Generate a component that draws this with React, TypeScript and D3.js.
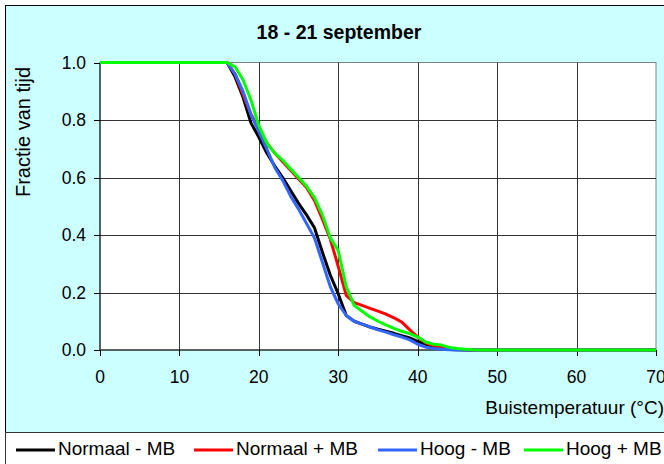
import React from 'react';
import * as d3 from 'd3';

// Buistemperatuur (°C) grid shared by all series
const temps = [0, 16, 17, 18, 19, 20, 21, 22, 23, 24, 25, 26, 27, 28, 29, 30, 31, 32, 33, 34, 35, 36, 37, 38, 39, 40, 41, 42, 43, 44, 45, 46, 47, 48, 70];

const normaalMin = [1, 1, 0.95, 0.88, 0.79, 0.74, 0.685, 0.64, 0.6, 0.555, 0.51, 0.47, 0.425, 0.34, 0.26, 0.195, 0.12, 0.1, 0.09, 0.08, 0.072, 0.065, 0.058, 0.05, 0.042, 0.03, 0.02, 0.012, 0.006, 0.002, 0.001, 0, 0, 0, 0];
const normaalPlus = [1, 1, 0.96, 0.89, 0.82, 0.77, 0.72, 0.685, 0.655, 0.625, 0.595, 0.565, 0.52, 0.455, 0.385, 0.29, 0.19, 0.165, 0.155, 0.145, 0.135, 0.125, 0.112, 0.097, 0.07, 0.045, 0.025, 0.015, 0.01, 0.006, 0.003, 0.001, 0, 0, 0];
const hoogMin = [1, 1, 0.96, 0.9, 0.82, 0.76, 0.7, 0.635, 0.59, 0.535, 0.49, 0.44, 0.39, 0.305, 0.22, 0.16, 0.12, 0.1, 0.09, 0.08, 0.07, 0.062, 0.053, 0.045, 0.035, 0.02, 0.01, 0.005, 0.003, 0.001, 0, 0, 0, 0, 0];
const hoogPlus = [1, 1, 0.985, 0.94, 0.87, 0.78, 0.72, 0.685, 0.66, 0.63, 0.6, 0.57, 0.53, 0.47, 0.39, 0.345, 0.22, 0.155, 0.135, 0.115, 0.1, 0.087, 0.075, 0.065, 0.057, 0.045, 0.028, 0.02, 0.017, 0.009, 0.005, 0.003, 0.001, 0, 0];

const seriesNames = ['Normaal - MB', 'Normaal + MB', 'Hoog - MB', 'Hoog + MB'];
const seriesColors = ['#000000', '#FF0000', '#3366FF', '#00FF00'];
const seriesValues = [normaalMin, normaalPlus, hoogMin, hoogPlus];

const xTicks = [0, 10, 20, 30, 40, 50, 60, 70];
const yTicks = [0, 0.2, 0.4, 0.6, 0.8, 1.0];

const FONT = '"Liberation Sans", Arial, sans-serif';

export default function App() {
  const x = d3.scaleLinear().domain([0, 70]).range([100, 656]);
  const y = d3.scaleLinear().domain([0, 1]).range([350, 62.5]);

  const line = d3.line<number>()
    .x((_, i) => x(temps[i]))
    .y(d => y(d));

  const legendX = [16, 194, 378, 524];

  return (
    <svg width={664} height={464} style={{ position: 'absolute', left: 0, top: 0 }} fontFamily={FONT}>
      {/* chart area */}
      <rect x={5.5} y={5.5} width={680} height={427} fill="#CCFFFF" stroke="#000" />
      <text x={339} y={39} textAnchor="middle" fontSize={19.5} fontWeight="bold">18 - 21 september</text>

      {/* plot area */}
      <rect x={x(0)} y={y(1)} width={x(70) - x(0)} height={y(0) - y(1)} fill="#fff" stroke="#808080" />

      {xTicks.slice(1, -1).map(t => (
        <line key={'gx' + t} x1={Math.round(x(t)) + 0.5} x2={Math.round(x(t)) + 0.5} y1={y(1)} y2={y(0)} stroke="#333" />
      ))}
      {yTicks.slice(1, -1).map(t => (
        <line key={'gy' + t} x1={x(0)} x2={x(70)} y1={Math.round(y(t)) + 0.5} y2={Math.round(y(t)) + 0.5} stroke="#333" />
      ))}

      {/* axes */}
      <line x1={x(0)} x2={x(0)} y1={y(1)} y2={y(0)} stroke="#000" />
      <line x1={x(0)} x2={x(70)} y1={y(0)} y2={y(0)} stroke="#000" />
      {yTicks.map(t => (
        <g key={'ty' + t}>
          <line x1={x(0) - 6} x2={x(0)} y1={Math.round(y(t)) + 0.5} y2={Math.round(y(t)) + 0.5} stroke="#000" />
          <text x={86} y={y(t) + 6} textAnchor="end" fontSize={17.5}>{d3.format('.1f')(t)}</text>
        </g>
      ))}
      {xTicks.map(t => (
        <g key={'tx' + t}>
          <line x1={Math.round(x(t)) + 0.5} x2={Math.round(x(t)) + 0.5} y1={y(0)} y2={y(0) + 6} stroke="#000" />
          <text x={x(t)} y={383} textAnchor="middle" fontSize={17.5}>{t}</text>
        </g>
      ))}

      <text x={664} y={414} textAnchor="end" fontSize={19}>Buistemperatuur (°C)</text>
      <text transform="translate(30,132) rotate(-90)" textAnchor="middle" fontSize={20}>Fractie van tijd</text>

      {/* series */}
      {seriesValues.map((vals, i) => (
        <path key={seriesNames[i]} d={line(vals) || ''} fill="none" stroke={seriesColors[i]} strokeWidth={3} strokeLinejoin="round" />
      ))}

      {/* legend */}
      <rect x={5.5} y={432.5} width={680} height={40} fill="#fff" stroke="#333" />
      {seriesNames.map((name, i) => (
        <g key={'lg' + name}>
          <line x1={legendX[i]} x2={legendX[i] + 39} y1={450} y2={450} stroke={seriesColors[i]} strokeWidth={3} />
          <text x={legendX[i] + 42} y={455} fontSize={19}>{name}</text>
        </g>
      ))}
    </svg>
  );
}
